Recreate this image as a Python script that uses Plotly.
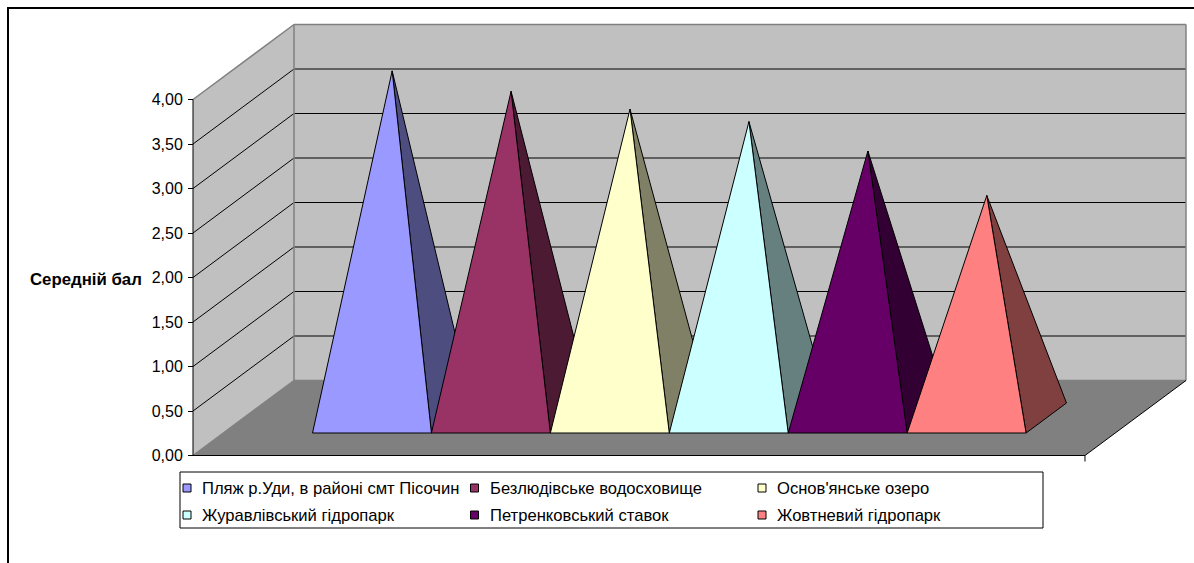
import plotly.graph_objects as go

# ---- data -------------------------------------------------------------
series_names = [
    "Пляж р.Уди, в районі смт Пісочин",
    "Безлюдівське водосховище",
    "Основ'янське озеро",
    "Журавлівський гідропарк",
    "Петренковський ставок",
    "Жовтневий гідропарк",
]
mean_scores = [3.90, 3.67, 3.47, 3.33, 3.00, 2.50]
y_tick_values = [0.0, 0.5, 1.0, 1.5, 2.0, 2.5, 3.0, 3.5, 4.0]
axis_title = "Середній бал"

# ---- styles -----------------------------------------------------------
front_colors = ["#9999FF", "#993366", "#FFFFCC", "#CCFFFF", "#660066", "#FF8080"]
side_colors = ["#4D4D80", "#4D1A33", "#808066", "#668080", "#330033", "#804040"]
WALL_COLOR = "#C0C0C0"
FLOOR_COLOR = "#808080"
EDGE_GRAY = "#808080"
FONT = "Liberation Sans, Arial, sans-serif"
TEXT_SIZE = 16
LEGEND_SIZE = 16.6

W, H = 1194, 563
X0_PX, Y0_PX = 193.0, 455.5      # front-left-bottom corner of the floor
UNIT_PX = 118.93                 # width of one pyramid base
VALUE_PX = 89.0                  # pixels per score unit
GAP = 0.75                       # half gap width (in base widths)
DEPTH = 2.5                      # floor depth (in base widths)
DX, DY = 0.3397, 0.3371          # oblique offset per depth unit (x units, value units)

n = len(mean_scores)
floor_w = n + 2 * GAP
wall_top = max(y_tick_values)


def proj(x, d, v):
    return x + d * DX, v + d * DY


def poly(points):
    pts = [proj(*p) for p in points]
    xs = [p[0] for p in pts] + [pts[0][0]]
    ys = [p[1] for p in pts] + [pts[0][1]]
    return xs, ys


def seg(a, b):
    pa, pb = proj(*a), proj(*b)
    return [pa[0], pb[0]], [pa[1], pb[1]]


fig = go.Figure()


def add_fill(points, fill, line_color=None, width=1.0):
    xs, ys = poly(points)
    fig.add_trace(go.Scatter(
        x=xs, y=ys, mode="lines", fill="toself", fillcolor=fill,
        line=dict(color=line_color or fill, width=width if line_color else 0),
        hoverinfo="skip", showlegend=False))


def add_line(a, b, color, width=1.0):
    xs, ys = seg(a, b)
    fig.add_trace(go.Scatter(x=xs, y=ys, mode="lines",
                             line=dict(color=color, width=width),
                             hoverinfo="skip", showlegend=False))


# walls
add_fill([(0, DEPTH, 0), (floor_w, DEPTH, 0), (floor_w, DEPTH, wall_top), (0, DEPTH, wall_top)], WALL_COLOR)
add_fill([(0, 0, 0), (0, DEPTH, 0), (0, DEPTH, wall_top), (0, 0, wall_top)], WALL_COLOR)

# gridlines on side and back walls
for v in y_tick_values[1:-1]:
    add_line((0, 0, v), (0, DEPTH, v), "#000000", 1)
    add_line((0, DEPTH, v), (floor_w, DEPTH, v), "#000000", 1)

# wall edges
add_line((0, 0, wall_top), (0, DEPTH, wall_top), EDGE_GRAY, 1.5)
add_line((0, DEPTH, wall_top), (floor_w, DEPTH, wall_top), EDGE_GRAY, 1.5)
add_line((floor_w, DEPTH, 0), (floor_w, DEPTH, wall_top), EDGE_GRAY, 1.5)
add_line((0, DEPTH, 0), (0, DEPTH, wall_top), EDGE_GRAY, 1.5)

# floor
add_fill([(0, 0, 0), (floor_w, 0, 0), (floor_w, DEPTH, 0), (0, DEPTH, 0)], FLOOR_COLOR)
add_line((0, 0, 0), (0, DEPTH, 0), EDGE_GRAY, 1.5)
add_line((0, DEPTH, 0), (floor_w, DEPTH, 0), EDGE_GRAY, 1.5)
add_line((0, 0, 0), (floor_w, 0, 0), "#000000", 1)
add_line((floor_w, 0, 0), (floor_w, DEPTH, 0), "#000000", 1)
# category axis end tick
fig.add_trace(go.Scatter(x=[floor_w, floor_w], y=[0, -6 / VALUE_PX], mode="lines",
                         line=dict(color="#000000", width=1), hoverinfo="skip", showlegend=False))

# value axis line
add_line((0, 0, 0), (0, 0, wall_top), "#000000", 1)

# pyramids
d_front, d_back = GAP, GAP + 1.0
d_mid = (d_front + d_back) / 2
for i, (val, fc, sc) in enumerate(zip(mean_scores, front_colors, side_colors)):
    xl = GAP + i
    xr = xl + 1.0
    apex = (xl + 0.5, d_mid, val)
    add_fill([(xr, d_front, 0), (xr, d_back, 0), apex], sc, "#000000", 1)
    add_fill([(xl, d_front, 0), (xr, d_front, 0), apex], fc, "#000000", 1)

# ---- axes -------------------------------------------------------------
x_range = [(0 - X0_PX) / UNIT_PX, (W - X0_PX) / UNIT_PX]
y_range = [(Y0_PX - H) / VALUE_PX, Y0_PX / VALUE_PX]

fig.update_xaxes(range=x_range, visible=False, fixedrange=True)
fig.update_yaxes(
    range=y_range, anchor="free", position=X0_PX / W,
    tickmode="array", tickvals=y_tick_values, tickformat=".2f",
    ticks="outside", ticklen=5, tickwidth=1, tickcolor="#000000",
    ticklabelstandoff=2,
    tickfont=dict(family=FONT, size=TEXT_SIZE, color="#000000"),
    showgrid=False, zeroline=False, showline=False, fixedrange=True,
)


def px(x):
    return x / W


def py(y):
    return 1 - y / H


shapes = []
annotations = []

# chart frame
shapes.append(dict(type="rect", xref="paper", yref="paper",
                   x0=px(8), x1=px(1200), y0=py(8), y1=py(575),
                   line=dict(color="#000000", width=2), fillcolor="rgba(0,0,0,0)"))

# value axis title
annotations.append(dict(text="<b>" + axis_title + "</b>", xref="paper", yref="paper",
                        x=px(144), y=py(279), xanchor="right", yanchor="middle",
                        showarrow=False, font=dict(family=FONT, size=16.8, color="#000000")))

# legend
shapes.append(dict(type="rect", xref="paper", yref="paper",
                   x0=px(180), x1=px(1043), y0=py(472), y1=py(528),
                   line=dict(color="#000000", width=1), fillcolor="#FFFFFF"))
COL_STEP, ROW_STEP = 287.5, 27
for i, (name, fc) in enumerate(zip(series_names, front_colors)):
    col, row = i % 3, i // 3
    cx = 187 + col * COL_STEP
    cy = 488 + row * ROW_STEP
    shapes.append(dict(type="rect", xref="paper", yref="paper",
                       x0=px(cx - 4), x1=px(cx + 4), y0=py(cy - 4), y1=py(cy + 4),
                       line=dict(color="#000000", width=1), fillcolor=fc))
    annotations.append(dict(text=name, xref="paper", yref="paper",
                            x=px(cx + 13), y=py(cy), xanchor="left", yanchor="middle",
                            showarrow=False, font=dict(family=FONT, size=LEGEND_SIZE, color="#000000")))

fig.update_layout(
    width=W, height=H,
    margin=dict(l=0, r=0, t=0, b=0),
    paper_bgcolor="#FFFFFF", plot_bgcolor="#FFFFFF",
    separators=", ",
    showlegend=False,
    shapes=shapes,
    annotations=annotations,
    font=dict(family=FONT, size=TEXT_SIZE, color="#000000"),
)

fig.write_html("out.html")
